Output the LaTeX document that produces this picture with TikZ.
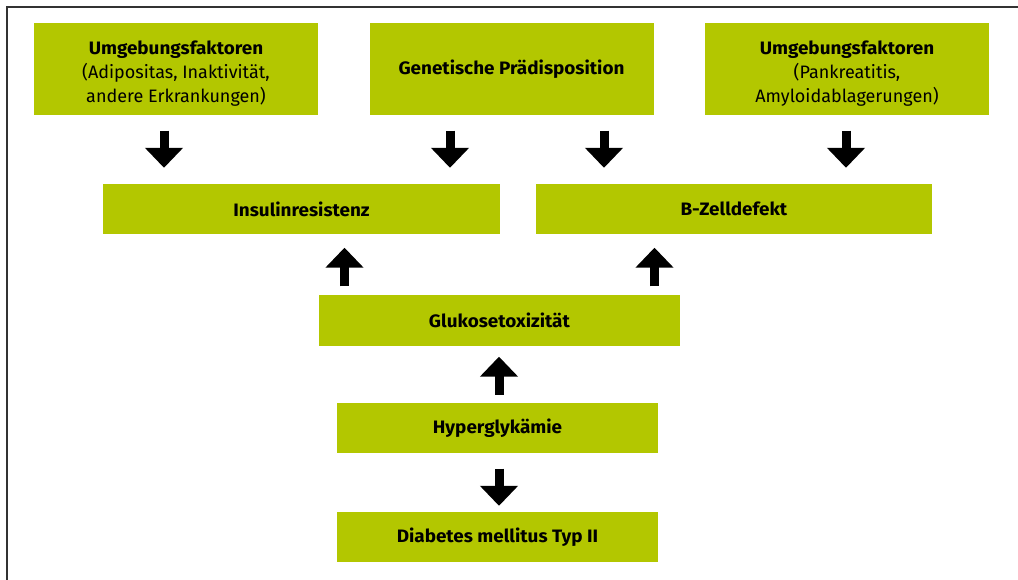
\documentclass[tikz,border=0pt]{standalone}
\usepackage{fontspec}
\setmainfont{Fira Sans}[BoldFeatures={FakeStretch=1.05}]
\usetikzlibrary{arrows.meta}
\usetikzlibrary{calc}
\usepackage{xcolor}
\definecolor{boxgreen}{RGB}{179,199,0}

% extra room above the first of several lines
\newcommand{\firstline}{\rule{0pt}{22pt}}

\begin{document}
\begin{tikzpicture}[x=1pt,y=-1pt,
    gbox/.style={fill=boxgreen, inner sep=0pt, align=center, minimum height=50pt,
      font=\fontsize{18}{24}\selectfont},
    causebox/.style={gbox, minimum width=284pt, minimum height=92pt},
    blockarrow/.style={line width=9pt, -{Triangle[width=37pt,length=20pt]}}]

        \useasboundingbox (0,0) rectangle (1018,580);

        % Frame
        \draw[line width=1.2pt, black!80] (1018,7) -- (7,7) -- (7,580);

        % Causes
        \node[causebox] (envA) at (176,69)
          {\firstline\textbf{Umgebungsfaktoren}\\(Adipositas, Inaktivität,\\andere Erkrankungen)};
        \node[causebox] (gen) at (511.5,69)
          {\textbf{Genetische Prädisposition}};
        \node[causebox] (envB) at (847,69)
          {\firstline\textbf{Umgebungsfaktoren}\\(Pankreatitis,\\Amyloidablagerungen)};

        % Defects
        \node[gbox, minimum width=397pt] (ins) at (301.5,209) {\textbf{Insulinresistenz}};
        \node[gbox, minimum width=396pt] (bz) at (734,209) {\textbf{B-Zelldefekt}};

        % Middle column
        \node[gbox, minimum width=361pt] (gluk) at (499.5,320.5) {\textbf{Glukosetoxizität}};
        \node[gbox, minimum width=321pt] (hyp) at (497.5,428) {\textbf{Hyperglykämie}};
        \node[gbox, minimum width=321pt] (diab) at (497.5,537) {\textbf{Diabetes mellitus Typ II}};

        % Arrows down to the defects
        \foreach \src/\dx/\dst in {envA/-12/ins, gen/-61.5/ins, gen/92.5/bz, envB/-1/bz}
        {
          \draw[blockarrow, shorten <=15.5pt, shorten >=16pt]
            ([xshift=\dx pt]\src.south) -- ([xshift=\dx pt]\src.south |- \dst.north);
        }

        % Glukosetoxizitaet feeds back
        \foreach \dx/\dst in {-155/ins, 155/bz}
        {
          \draw[blockarrow, shorten <=9pt, shorten >=13.5pt]
            ([xshift=\dx pt]gluk.north) -- ([xshift=\dx pt]gluk.north |- \dst.south);
        }

        \draw[blockarrow, shorten <=8pt, shorten >=11pt]
          ([xshift=1.5pt]hyp.north) -- ([xshift=1.5pt]hyp.north |- gluk.south);
        \draw[blockarrow, shorten <=15.5pt, shorten >=6pt]
          ([xshift=1.5pt]hyp.south) -- ([xshift=1.5pt]hyp.south |- diab.north);
    \end{tikzpicture}
\end{document}
